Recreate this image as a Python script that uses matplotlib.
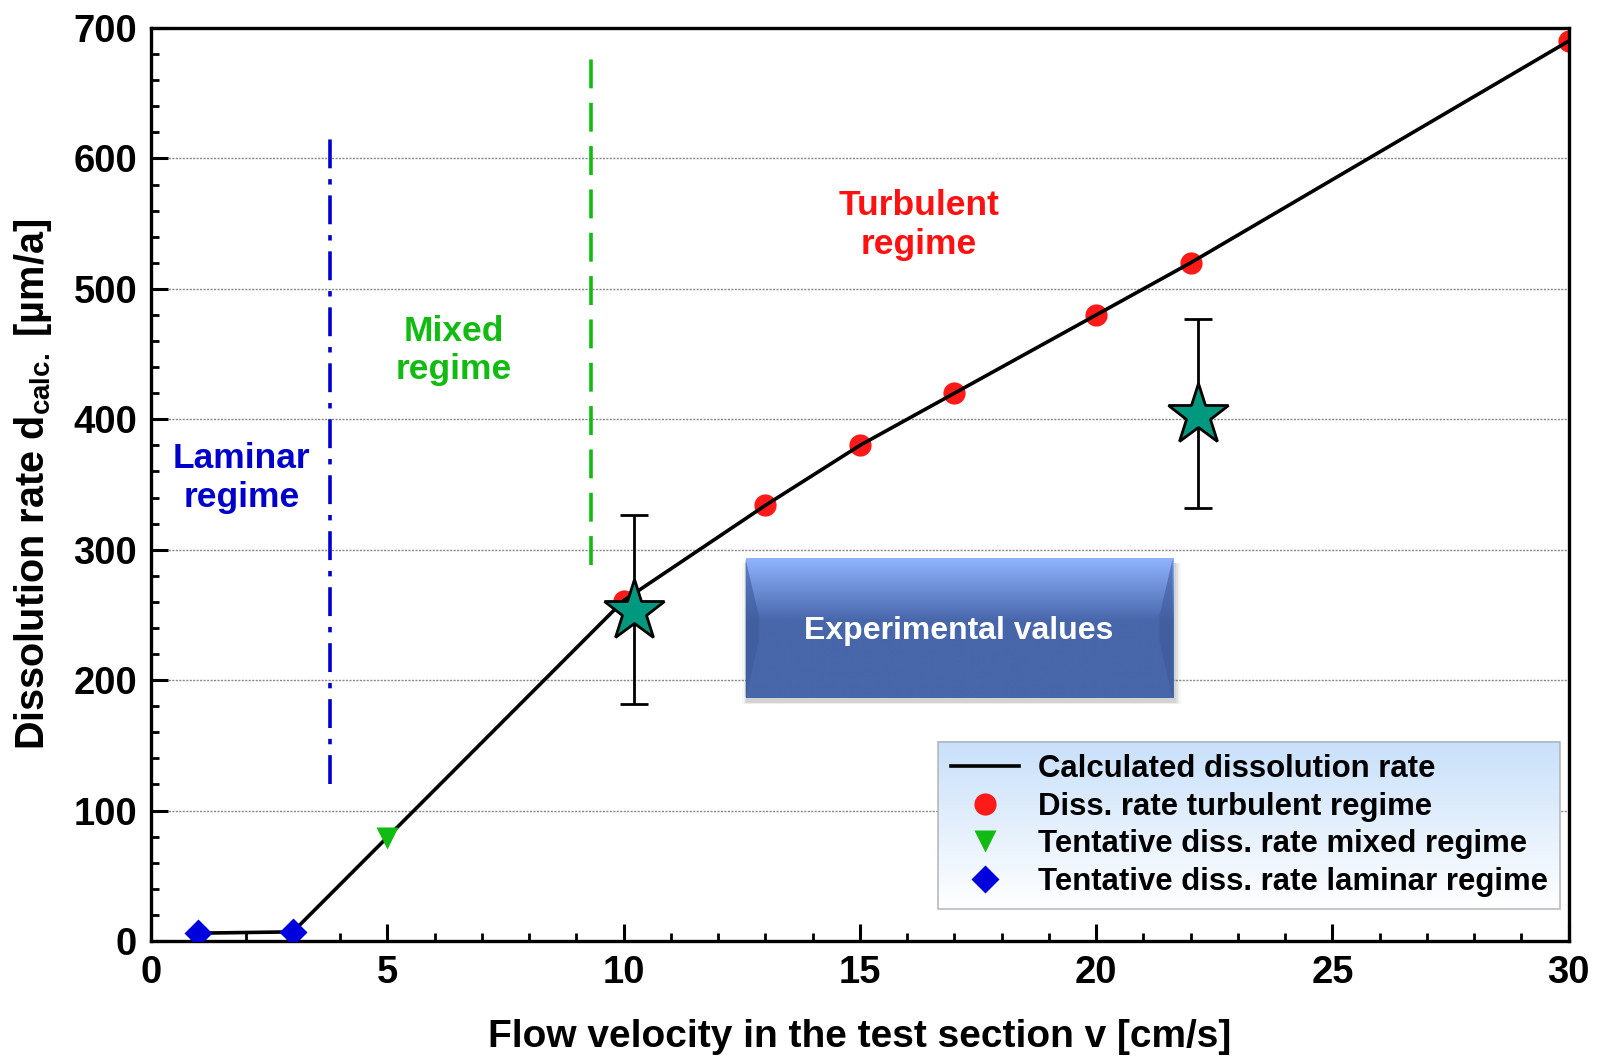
import numpy as np
import matplotlib
matplotlib.use("Agg")
import matplotlib.pyplot as plt
from matplotlib.lines import Line2D
from matplotlib.patches import Polygon, Rectangle
from matplotlib.ticker import MultipleLocator
from matplotlib.legend_handler import HandlerLine2D

plt.rcParams['font.family'] = ['Liberation Sans', 'DejaVu Sans']
plt.rcParams['font.weight'] = 'bold'
plt.rcParams['axes.labelweight'] = 'bold'
plt.rcParams['mathtext.fontset'] = 'custom'
plt.rcParams['mathtext.rm'] = 'Liberation Sans:bold'
plt.rcParams['mathtext.it'] = 'Liberation Sans:bold'
plt.rcParams['mathtext.bf'] = 'Liberation Sans:bold'
plt.rcParams['mathtext.default'] = 'rm'

# Calculated dissolution rate curve
calc_v = [1, 3, 10, 13, 15, 17, 20, 22, 30]
calc_d = [6, 7, 261, 334, 380, 420, 480, 520, 690]

# Turbulent regime points
turb_v = [10, 13, 15, 17, 20, 22, 30]
turb_d = [261, 334, 380, 420, 480, 520, 690]

# Mixed regime (tentative)
mixed_v = [5]
mixed_d = [79]

# Laminar regime (tentative)
lam_v = [1, 3]
lam_d = [6, 7]

# Experimental values with error bars
exp_v = [10.22, 22.15]
exp_d = [253, 403]
exp_lo = [182, 332]
exp_hi = [327, 477]

# Regime boundaries
lam_boundary = 3.78
mixed_boundary = 9.32


class MarkerLeftHandler(HandlerLine2D):
    """Put the legend marker near the left end of the handle."""
    def get_xdata(self, legend, xdescent, ydescent, width, height, fontsize):
        xd, xm = super().get_xdata(legend, xdescent, ydescent, width, height,
                                   fontsize)
        return xd, [-xdescent + 0.14 * width]


fig = plt.figure(figsize=(16.02, 10.58), dpi=100)
ax = fig.add_axes([0.0943, 0.1106, 0.8849, 0.8629])

ax.set_xlim(0, 30)
ax.set_ylim(0, 700)
ax.xaxis.set_major_locator(MultipleLocator(5))
ax.xaxis.set_minor_locator(MultipleLocator(1))
ax.yaxis.set_major_locator(MultipleLocator(100))
ax.yaxis.set_minor_locator(MultipleLocator(20))
ax.tick_params(which='major', direction='in', length=12, width=2.2,
               labelsize=27.5, pad=10, top=False, right=False)
ax.tick_params(which='minor', direction='in', length=6, width=2,
               top=False, right=False)
for s in ax.spines.values():
    s.set_linewidth(2.4)

# horizontal dotted grid at major y ticks
for yv in range(100, 700, 100):
    ax.axhline(yv, color='#888888', lw=1.0, ls=(0, (1.5, 1)), zorder=1)

# regime boundaries
ax.plot([lam_boundary, lam_boundary], [120, 617], color='#0000cc', lw=2.6,
        ls=(0, (8, 3, 1.5, 3)), zorder=2)
ax.plot([mixed_boundary, mixed_boundary], [288, 682], color='#11bb11', lw=2.6,
        ls=(0, (8, 4)), zorder=2)

# regime captions
ax.text(1.92, 355, 'Laminar\nregime', color='#0000cc', fontsize=25.5,
        ha='center', va='center', linespacing=1.2)
ax.text(6.4, 453, 'Mixed\nregime', color='#11bb11', fontsize=25.5,
        ha='center', va='center', linespacing=1.2)
ax.text(16.25, 549, 'Turbulent\nregime', color='#ff1111', fontsize=25.5,
        ha='center', va='center', linespacing=1.2)

# data
ax.plot(calc_v, calc_d, color='black', lw=2.6, zorder=3)
ax.plot(turb_v, turb_d, 'o', color='#ff1a1a', ms=16, mec='none', zorder=2.5)
ax.plot(mixed_v, mixed_d, 'v', color='#11bb11', ms=16, mec='none', zorder=4)
ax.plot(lam_v, lam_d, 'D', color='#0000dd', ms=14, mec='none', zorder=4)

yerr = [np.array(exp_d) - np.array(exp_lo), np.array(exp_hi) - np.array(exp_d)]
ax.errorbar(exp_v, exp_d, yerr=yerr, fmt='none', ecolor='black', elinewidth=2,
            capsize=10, capthick=2, zorder=5)
ax.plot(exp_v, exp_d, '*', color='#009980', ms=46, mec='black', mew=2, zorder=6)

# "Experimental values" bevelled button
bx0, bx1, by0, by1 = 12.58, 21.62, 186, 293
# soft shadow
for i, a in enumerate([0.06, 0.05, 0.04, 0.03]):
    d = 0.06 * (i + 1)
    ax.add_patch(Rectangle((bx0 + 0.05 - d * 0.5, by0 - 3 - d * 6),
                           (bx1 - bx0) + d, (by1 - by0) + d * 6,
                           color='black', alpha=a, lw=0, zorder=6.5))
grad = np.linspace(0, 1, 256).reshape(-1, 1)
top_c = np.array([0x90, 0xb4, 0xff]) / 255
mid_c = np.array([0x48, 0x66, 0xaa]) / 255
t = np.clip(grad / 0.45, 0, 1)
rgb = top_c * (1 - t) + mid_c * t
ax.imshow(rgb.reshape(256, 1, 3), extent=[bx0, bx1, by0, by1],
          aspect='auto', origin='upper', zorder=7, interpolation='bilinear')
bev = 0.28
ymid = (by0 + by1) / 2
ax.add_patch(Polygon([[bx0, by1], [bx0 + bev, ymid + 10], [bx0 + bev, ymid - 10],
                      [bx0, by0]], closed=True, color='#3d5a9c', alpha=0.6,
                     lw=0, zorder=7.2))
ax.add_patch(Polygon([[bx1, by1], [bx1 - bev, ymid + 10], [bx1 - bev, ymid - 10],
                      [bx1, by0]], closed=True, color='#3d5a9c', alpha=0.6,
                     lw=0, zorder=7.2))
ax.text((bx0 + bx1) / 2, 238, 'Experimental values', color='white',
        fontsize=23, ha='center', va='center', zorder=8)

ax.set_xlabel('Flow velocity in the test section v [cm/s]', fontsize=28,
              fontweight='bold', labelpad=20)
ax.set_ylabel(r'Dissolution rate d$_{\mathregular{calc.}}$ [µm/a]', fontsize=28.5,
              fontweight='bold', labelpad=14)

handles = [
    Line2D([], [], color='black', lw=2.6),
    Line2D([], [], marker='o', ls='none', color='#ff1a1a', ms=16, mec='none'),
    Line2D([], [], marker='v', ls='none', color='#11bb11', ms=16, mec='none'),
    Line2D([], [], marker='D', ls='none', color='#0000dd', ms=14, mec='none'),
]
labels = ['Calculated dissolution rate', 'Diss. rate turbulent regime',
          'Tentative diss. rate mixed regime', 'Tentative diss. rate laminar regime']
hm = {h: MarkerLeftHandler(numpoints=1) for h in handles[1:]}
leg = ax.legend(handles, labels, loc='lower right', bbox_to_anchor=(0.994, 0.035),
                fontsize=22.4, frameon=True, fancybox=False, handlelength=2.2,
                handletextpad=0.6, labelspacing=0.24, borderpad=0.4,
                borderaxespad=0, handler_map=hm)
fr = leg.get_frame()
fr.set_facecolor('none')
fr.set_edgecolor('#aaaaaa')
fr.set_linewidth(1.2)
leg.set_zorder(9)

fig.canvas.draw()
bb = fr.get_window_extent().transformed(ax.transAxes.inverted())
lg = np.linspace(0, 1, 256)
c_top = np.array([0xc8, 0xe0, 0xfa]) / 255
c_bot = np.array([1.0, 1.0, 1.0])
lrgb = (c_top[None, :] * (1 - lg[:, None]) + c_bot[None, :] * lg[:, None])
ax.imshow(lrgb.reshape(256, 1, 3), extent=[bb.x0, bb.x1, bb.y0, bb.y1],
          transform=ax.transAxes, aspect='auto', origin='upper', zorder=8.9,
          interpolation='bilinear')
ax.set_xlim(0, 30)
ax.set_ylim(0, 700)

fig.savefig('out.png', dpi=100)
